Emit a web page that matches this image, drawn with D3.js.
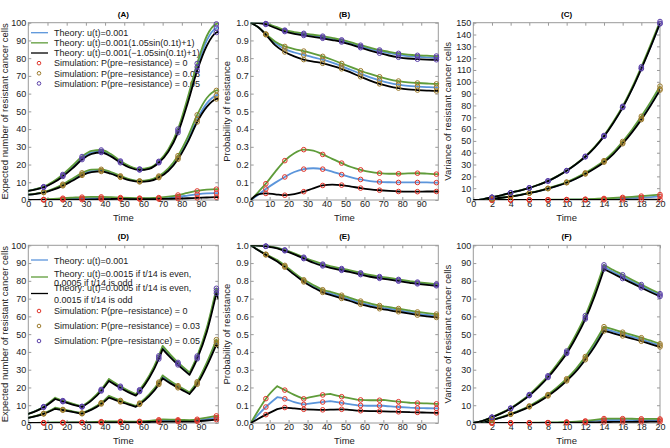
<!DOCTYPE html>
<html>
<head>
<meta charset="utf-8">
<script src="https://cdn.jsdelivr.net/npm/d3@7"></script>
<style>
  body { margin: 0; background: #fff; }
  svg { display: block; font-family: "Liberation Sans", Arial, Helvetica, sans-serif; }
</style>
</head>
<body>
<script>
//Sample times of the theory curves
const tLong = [0,4,8,13,18,23,28,33,38,43,48,53,58,63,68,73,78,83,88,93,98,99];
const tStep = [0,4,8,14,18,23,28,33,38,42,48,52,56,58,63,68,70,74,78,84,88,93,98,99];
const tShort = [0,1,2,3,4,5,6,7,8,9,10,11,12,13,14,15,16,17,18,19,20];

//Times where the simulation circles are shown
const simLong = [8,18,28,38,48,58,68,78,88,98];
const simShort = [2,4,6,8,10,12,14,16,18,20];

//Tick labels
const ticksLong = [0,10,20,30,40,50,60,70,80,90];
const ticksShort = [0,2,4,6,8,10,12,14,16,18,20];
const ticks100 = [0,10,20,30,40,50,60,70,80,90,100];
const ticks150 = [0,10,20,30,40,50,60,70,80,90,100,110,120,130,140,150];
const ticksProb = [0,0.1,0.2,0.3,0.4,0.5,0.6,0.7,0.8,0.9,1.0];

//Legend texts
const theoryA = ['Theory: u(t)=0.001','Theory: u(t)=0.001(1.05sin(0.1t)+1)','Theory: u(t)=0.001(\u22121.05sin(0.1t)+1)'];
const theoryD = [['Theory: u(t)=0.001'],['Theory: u(t)=0.0015 if t/14 is even,','0.0005 if t/14 is odd'],['Theory: u(t)=0.0005 if t/14 is even,','0.0015 if t/14 is odd']];
const simLabels = ['Simulation: P(pre\u2212resistance) = 0','Simulation: P(pre\u2212resistance) = 0.03','Simulation: P(pre\u2212resistance) = 0.05'];

//(A) expected number, sinusoidal rate
const aBlue0 = [0,0.05,0.15,0.3,0.5,0.7,0.9,1.0,1.05,1.0,0.9,0.8,0.75,0.8,0.95,1.3,1.8,2.5,3.2,3.7,3.9,3.9];
const aGreen0 = [0,0.08,0.3,0.6,1.0,1.3,1.6,1.75,1.75,1.6,1.35,1.15,1.05,1.1,1.35,1.9,2.8,4.0,5.1,5.8,6.1,6.1];
const aBlack0 = [0,0.02,0.03,0.06,0.1,0.15,0.2,0.3,0.45,0.55,0.6,0.55,0.5,0.5,0.55,0.65,0.8,1.0,1.2,1.4,1.6,1.6];
const aBlue3 = [3.0,3.5,4.3,6.0,8.4,11.4,14.5,16.3,16.6,15.2,13.1,11.3,10.5,10.9,13.0,17.1,23.8,33.5,45.5,54.5,59.0,59.3];
const aGreen3 = [3.0,3.6,4.5,6.3,8.9,12.0,15.3,17.1,17.3,15.8,13.6,11.7,10.8,11.3,13.5,17.8,25.0,35.3,48.0,57.5,61.8,62.0];
const aBlack3 = [3.0,3.5,4.2,5.8,8.0,10.9,13.9,15.7,16.1,14.8,12.8,11.0,10.2,10.6,12.6,16.5,23.0,32.5,44.0,52.5,57.0,57.2];
const aBlue5 = [5.2,6.1,7.3,10.0,13.8,18.5,23.6,26.8,27.4,25.2,21.5,18.6,17.2,17.9,21.4,28.0,39.0,56.0,75.0,90.0,97.0,97.3];
const aGreen5 = [5.2,6.2,7.5,10.4,14.4,19.3,24.5,27.7,28.2,25.9,22.0,19.0,17.5,18.2,21.8,28.6,40.0,57.5,77.0,92.5,99.3,99.6];
const aBlack5 = [5.2,6.0,7.1,9.7,13.3,17.8,22.8,26.0,26.8,24.6,21.0,18.2,16.9,17.6,21.0,27.4,38.0,54.5,73.0,87.0,94.5,94.8];

//(B) probability of resistance, sinusoidal rate
const bBlue0 = [0,0.03,0.062,0.098,0.13,0.158,0.174,0.179,0.174,0.16,0.143,0.128,0.116,0.107,0.102,0.1,0.099,0.099,0.099,0.099,0.098,0.098];
const bGreen0 = [0,0.045,0.092,0.16,0.222,0.264,0.284,0.279,0.257,0.232,0.208,0.186,0.17,0.158,0.151,0.148,0.148,0.15,0.151,0.149,0.146,0.146];
const bBlack0 = [0,0.032,0.037,0.032,0.027,0.033,0.047,0.066,0.082,0.087,0.084,0.076,0.067,0.06,0.055,0.051,0.048,0.047,0.047,0.048,0.048,0.048];
const bBlue3 = [1.0,0.975,0.935,0.885,0.852,0.832,0.818,0.805,0.792,0.775,0.755,0.733,0.712,0.692,0.675,0.661,0.651,0.644,0.64,0.637,0.635,0.635];
const bGreen3 = [1.0,0.975,0.936,0.893,0.866,0.851,0.84,0.826,0.81,0.791,0.77,0.749,0.729,0.711,0.695,0.681,0.671,0.664,0.66,0.657,0.655,0.655];
const bBlack3 = [1.0,0.974,0.932,0.872,0.835,0.81,0.792,0.781,0.771,0.757,0.74,0.718,0.695,0.673,0.655,0.641,0.631,0.624,0.62,0.617,0.615,0.615];
const bBlue5 = [1.0,0.999,0.994,0.975,0.955,0.943,0.935,0.927,0.918,0.908,0.897,0.882,0.866,0.852,0.839,0.828,0.819,0.812,0.808,0.805,0.803,0.803];
const bGreen5 = [1.0,0.999,0.995,0.978,0.958,0.947,0.94,0.932,0.924,0.914,0.903,0.889,0.873,0.859,0.846,0.836,0.827,0.82,0.816,0.814,0.812,0.812];
const bBlack5 = [1.0,0.998,0.99,0.97,0.95,0.937,0.928,0.92,0.912,0.902,0.891,0.876,0.859,0.843,0.828,0.815,0.805,0.798,0.794,0.792,0.791,0.791];

//(C) variance, sinusoidal rate
const cBlue0 = [0,0,0,0.01,0.02,0.03,0.05,0.07,0.1,0.14,0.2,0.28,0.4,0.57,0.8,1.05,1.4,1.75,2.1,2.5,3.0];
const cGreen0 = [0,0,0.01,0.02,0.03,0.05,0.08,0.12,0.17,0.25,0.35,0.5,0.7,0.98,1.3,1.7,2.2,2.7,3.3,3.9,4.6];
const cBlack0 = [0,0,0,0,0.01,0.01,0.02,0.02,0.03,0.04,0.05,0.06,0.08,0.1,0.13,0.16,0.2,0.24,0.29,0.34,0.4];
const cBlue3 = [0,0.3,1.1,1.9,2.9,4.3,5.9,7.6,9.7,12.0,14.8,18.3,22.4,27.0,32.5,39.5,48.3,58.0,69.0,81.0,94.0];
const cGreen3 = [0,0.3,1.1,1.9,3.0,4.4,6.0,7.8,9.9,12.3,15.2,18.8,23.0,27.7,33.3,40.5,49.5,59.5,70.8,83.0,96.3];
const cBlack3 = [0,0.3,1.1,1.9,2.9,4.2,5.8,7.5,9.6,11.9,14.6,18.0,22.0,26.6,32.0,38.9,47.6,57.2,68.0,80.0,93.0];
const cBlue5 = [0,0.6,2.3,4.0,6.1,8.0,10.2,12.9,16.0,20.0,24.7,30.2,36.6,44.5,54.0,65.5,78.5,94.0,111.5,130.0,149.0];
const cGreen5 = [0,0.6,2.3,4.0,6.1,8.1,10.3,13.0,16.2,20.2,24.9,30.5,37.0,45.0,54.6,66.2,79.3,95.0,112.7,131.5,151.0];
const cBlack5 = [0,0.6,2.3,4.0,6.1,8.0,10.2,12.9,16.0,20.0,24.7,30.2,36.6,44.4,53.8,65.2,78.2,93.6,111.0,129.5,149.5];

//(D) expected number, alternating rate
const dBlue0 = [0,0.03,0.08,0.17,0.2,0.22,0.24,0.35,0.5,0.62,0.62,0.6,0.58,0.65,0.92,1.25,1.42,1.35,1.28,1.15,1.5,2.2,3.0,2.9];
const dGreen0 = [0,0.06,0.14,0.3,0.3,0.3,0.3,0.5,0.75,0.95,0.88,0.83,0.78,0.9,1.25,1.8,2.05,1.9,1.78,1.6,2.1,3.0,4.0,3.9];
const dBlack0 = [0,0.01,0.02,0.05,0.1,0.15,0.18,0.2,0.25,0.3,0.35,0.38,0.4,0.43,0.55,0.7,0.8,0.82,0.82,0.8,0.95,1.4,1.9,1.9];
const dBlue3 = [2.9,3.9,5.3,8.3,7.4,6.4,5.4,7.8,11.1,14.8,12.3,10.8,9.4,10.8,15.6,22.4,26.0,23.0,20.4,16.8,22.5,33.0,45.5,43.5];
const dGreen3 = [2.9,4.0,5.4,8.6,7.6,6.6,5.6,8.0,11.4,15.3,12.7,11.1,9.7,11.2,16.1,23.0,26.8,23.7,21.0,17.3,23.2,34.0,46.9,44.8];
const dBlack3 = [2.9,3.8,5.1,8.0,7.2,6.2,5.2,7.5,10.7,14.3,11.9,10.5,9.1,10.5,15.1,21.7,25.2,22.3,19.8,16.3,21.8,32.0,44.2,42.3];
const dBlue5 = [5.1,6.8,9.0,13.8,12.3,10.6,9.2,13.0,18.4,24.2,20.2,17.9,15.8,18.2,25.9,36.9,42.5,37.7,33.4,27.8,36.9,52.4,74.5,71.5];
const dGreen5 = [5.1,6.9,9.2,14.2,12.6,10.9,9.4,13.4,18.9,24.8,20.7,18.3,16.2,18.7,26.6,37.8,43.4,38.5,34.1,28.4,37.7,53.6,75.8,72.8];
const dBlack5 = [5.1,6.7,8.8,13.5,12.0,10.4,9.0,12.7,18.0,23.6,19.7,17.4,15.4,17.7,25.3,36.0,41.6,36.9,32.7,27.1,36.1,51.2,73.0,70.0];

//(E) probability of resistance, alternating rate
const eBlue0 = [0,0.047,0.09,0.145,0.136,0.118,0.105,0.112,0.118,0.123,0.113,0.106,0.1,0.099,0.097,0.097,0.097,0.093,0.09,0.086,0.084,0.083,0.082,0.082];
const eGreen0 = [0,0.07,0.137,0.207,0.185,0.158,0.136,0.148,0.158,0.164,0.148,0.14,0.132,0.13,0.128,0.128,0.13,0.125,0.12,0.114,0.112,0.11,0.108,0.108];
const eBlack0 = [0,0.024,0.047,0.078,0.087,0.082,0.077,0.075,0.074,0.075,0.077,0.074,0.07,0.069,0.067,0.066,0.065,0.064,0.063,0.061,0.06,0.058,0.057,0.057];
const eBlue3 = [1.0,0.973,0.948,0.913,0.882,0.84,0.8,0.77,0.742,0.73,0.71,0.697,0.682,0.677,0.664,0.652,0.648,0.642,0.635,0.624,0.616,0.609,0.603,0.602];
const eGreen3 = [1.0,0.974,0.95,0.917,0.887,0.845,0.806,0.777,0.75,0.739,0.719,0.706,0.691,0.686,0.673,0.661,0.657,0.651,0.644,0.633,0.625,0.618,0.613,0.612];
const eBlack3 = [1.0,0.972,0.946,0.909,0.877,0.835,0.794,0.763,0.735,0.721,0.701,0.688,0.673,0.668,0.655,0.643,0.639,0.633,0.626,0.615,0.607,0.6,0.594,0.593];
const eBlue5 = [1.0,0.998,0.995,0.985,0.972,0.952,0.929,0.907,0.889,0.878,0.864,0.855,0.845,0.84,0.828,0.819,0.816,0.81,0.803,0.793,0.788,0.782,0.777,0.776];
const eGreen5 = [1.0,0.998,0.995,0.986,0.974,0.955,0.933,0.912,0.894,0.883,0.869,0.86,0.85,0.845,0.833,0.824,0.821,0.815,0.808,0.798,0.793,0.787,0.782,0.781];
const eBlack5 = [1.0,0.998,0.994,0.983,0.969,0.949,0.925,0.902,0.884,0.873,0.859,0.85,0.84,0.835,0.823,0.814,0.811,0.805,0.798,0.788,0.783,0.777,0.772,0.771];

//(F) variance, alternating rate
const fBlue0 = [0,0,0.01,0.01,0.03,0.05,0.08,0.12,0.18,0.26,0.38,0.55,0.8,1.15,1.7,1.7,1.68,1.65,1.62,1.6,1.58];
const fGreen0 = [0,0,0.01,0.02,0.04,0.07,0.11,0.17,0.25,0.38,0.55,0.8,1.15,1.7,2.5,2.5,2.45,2.4,2.35,2.3,2.25];
const fBlack0 = [0,0,0,0.01,0.01,0.02,0.03,0.04,0.06,0.09,0.13,0.18,0.26,0.37,0.55,0.6,0.64,0.68,0.7,0.72,0.74];
const fBlue3 = [0,0.6,1.7,3.2,5.0,7.0,9.3,12.2,15.6,19.6,24.3,29.7,36.5,44.2,53.0,51.6,50.0,48.5,47.0,45.3,43.7];
const fGreen3 = [0,0.6,1.8,3.3,5.2,7.2,9.6,12.6,16.0,20.1,24.9,30.5,37.4,45.3,54.2,52.7,51.1,49.6,48.0,46.3,44.6];
const fBlack3 = [0,0.6,1.7,3.1,4.9,6.8,9.1,11.9,15.2,19.1,23.7,29.0,35.6,43.1,51.8,50.5,49.0,47.5,46.0,44.4,42.8];
const fBlue5 = [0,1.2,3.2,5.5,8.2,11.7,15.6,20.5,26.0,32.5,39.7,48.8,59.3,72.5,87.8,85.0,82.3,79.7,77.0,74.5,72.0];
const fGreen5 = [0,1.2,3.3,5.7,8.4,12.0,16.0,21.0,26.6,33.2,40.5,49.8,60.4,73.8,89.0,86.1,83.4,80.6,77.9,75.3,72.8];
const fBlack5 = [0,1.2,3.2,5.4,8.1,11.5,15.4,20.2,25.6,32.0,39.1,48.1,58.5,71.4,86.6,84.0,81.3,78.7,76.1,73.6,71.2];

//Colours
const lineColors = ['#5b95db','#5f9c3a','#000000'];
const simColors = ['#e0352b','#9c7b2c','#5a40a8'];

const svg = d3.select('body').append('svg')
    .attr('width',670)
    .attr('height',448);

//Draw one panel
function drawPanel(p){
    const x = d3.scaleLinear().domain(p.xDomain).range([p.left,p.right]);
    const y = d3.scaleLinear().domain(p.yDomain).range([p.bottom,p.top]);
    const g = svg.append('g');

    g.append('g').attr('transform',`translate(0,${p.bottom})`)
        .call(d3.axisBottom(x).tickValues(p.xTicks).tickSize(-3).tickPadding(1).tickFormat(d3.format('d')));
    g.append('g').attr('transform',`translate(0,${p.top})`)
        .call(d3.axisTop(x).tickValues(p.xTicks).tickSize(-3).tickFormat(''));
    g.append('g').attr('transform',`translate(${p.left},0)`)
        .call(d3.axisLeft(y).tickValues(p.yTicks).tickSize(-3).tickPadding(2).tickFormat(p.yFormat));
    g.append('g').attr('transform',`translate(${p.right},0)`)
        .call(d3.axisRight(y).tickValues(p.yTicks).tickSize(-3).tickFormat(''));
    g.selectAll('.domain').remove();
    g.selectAll('.tick line').attr('stroke','#9a9a9a');
    g.selectAll('.tick text').attr('font-size','9px').attr('fill','#222').attr('font-family','"Liberation Sans", Arial, sans-serif');

    //Border
    g.append('rect')
        .attr('x',p.left).attr('y',p.top)
        .attr('width',p.right-p.left).attr('height',p.bottom-p.top)
        .attr('fill','none').attr('stroke','#9a9a9a');

    //Title and axis labels
    g.append('text').attr('x',(p.left+p.right)/2).attr('y',p.top-6)
        .attr('text-anchor','middle').attr('font-size','8px').attr('font-weight','bold')
        .text(p.title);
    g.append('text').attr('x',(p.left+p.right)/2).attr('y',p.bottom+20.5)
        .attr('text-anchor','middle').attr('font-size','9.5px').attr('fill','#222')
        .text('Time');
    g.append('text')
        .attr('transform',`translate(${p.yLabelX},${(p.top+p.bottom)/2}) rotate(-90)`)
        .attr('text-anchor','middle').attr('font-size','9.5px').attr('fill','#222')
        .text(p.yLabel);

    if(p.legend) p.legend(g);

    //Clip the curves to the plot area
    const clipId = 'clip'+p.title.replace(/[()]/g,'');
    g.append('clipPath').attr('id',clipId).append('rect')
        .attr('x',p.left).attr('y',p.top)
        .attr('width',p.right-p.left).attr('height',p.bottom-p.top);

    const line = d3.line().x((d)=>x(d[0])).y((d)=>y(d[1])).curve(d3.curveMonotoneX);

    //Split the curve at the rate switch points so the corners stay sharp
    function pathOf(vals){
        const pts = d3.zip(p.times,vals);
        let d = '', seg = [];
        pts.forEach((pt,i)=>{
            seg.push(pt);
            if(p.breaks.includes(pt[0]) || i===pts.length-1){
                if(seg.length>1) d += line(seg);
                seg = [pt];
            }
        });
        return d;
    }

    const lines = g.append('g').attr('clip-path',`url(#${clipId})`);
    p.groups.forEach((grp)=>{
        grp.forEach((vals,k)=>{
            lines.append('path')
                .attr('d',pathOf(vals))
                .attr('fill','none')
                .attr('stroke',lineColors[k])
                .attr('stroke-width',1.8)
                .attr('stroke-linejoin','round')
                .attr('stroke-linecap','round');
        });
    });

    //Simulation circles
    p.groups.forEach((grp,gi)=>{
        grp.forEach((vals)=>{
            p.times.forEach((t,i)=>{
                if(!p.simTimes.includes(t)) return;
                g.append('circle')
                    .attr('cx',x(t)).attr('cy',y(vals[i])).attr('r',2.3)
                    .attr('fill','none').attr('stroke',simColors[gi]).attr('stroke-width',1);
            });
        });
    });
}

//Legend with one text line per entry
function legendA(g){
    const lx = 31, tx = 54, y0 = 32.7, dy = 10.15;
    theoryA.forEach((s,i)=>{
        g.append('line').attr('x1',lx).attr('x2',lx+17).attr('y1',y0+dy*i).attr('y2',y0+dy*i)
            .attr('stroke',lineColors[i]).attr('stroke-width',1.3);
        g.append('text').attr('x',tx).attr('y',y0+dy*i+3.2).attr('font-size','9px').attr('fill','#222').text(s);
    });
    simLabels.forEach((s,i)=>{
        const yy = y0+dy*(i+3);
        g.append('circle').attr('cx',39).attr('cy',yy).attr('r',1.8).attr('fill','none')
            .attr('stroke',simColors[i]).attr('stroke-width',1);
        g.append('text').attr('x',tx).attr('y',yy+3.2).attr('font-size','9px').attr('fill','#222').text(s);
    });
}

//Legend with wrapped theory entries
function legendD(g){
    const lx = 31, tx = 54;
    const lineY = [260,277,293.5];
    const textY = [[261],[273.5,282.5],[288,300]];
    theoryD.forEach((rows,i)=>{
        g.append('line').attr('x1',lx).attr('x2',lx+17).attr('y1',lineY[i]).attr('y2',lineY[i])
            .attr('stroke',lineColors[i]).attr('stroke-width',1.3);
        rows.forEach((s,j)=>{
            g.append('text').attr('x',tx).attr('y',textY[i][j]+3.2).attr('font-size','9px').attr('fill','#222').text(s);
        });
    });
    const simY = [311,326,341];
    simLabels.forEach((s,i)=>{
        g.append('circle').attr('cx',39).attr('cy',simY[i]).attr('r',1.8).attr('fill','none')
            .attr('stroke',simColors[i]).attr('stroke-width',1);
        g.append('text').attr('x',tx).attr('y',simY[i]+3.2).attr('font-size','9px').attr('fill','#222').text(s);
    });
}

const topRow = {top:22.7,bottom:200};
const botRow = {top:245.3,bottom:423};
const colA = {left:28.3,right:218.3,yLabelX:8};
const colB = {left:250.7,right:438.3,yLabelX:230};
const colC = {left:473.3,right:660,yLabelX:451};
const fmtInt = d3.format('d');
const fmtProb = d3.format('.1f');

drawPanel({...topRow,...colA,title:'(A)',xDomain:[0,99],yDomain:[0,100],xTicks:ticksLong,yTicks:ticks100,yFormat:fmtInt,
    yLabel:'Expected number of resistant cancer cells',times:tLong,breaks:[],simTimes:simLong,legend:legendA,
    groups:[[aBlue0,aGreen0,aBlack0],[aBlue3,aGreen3,aBlack3],[aBlue5,aGreen5,aBlack5]]});
drawPanel({...topRow,...colB,title:'(B)',xDomain:[0,99],yDomain:[0,1],xTicks:ticksLong,yTicks:ticksProb,yFormat:fmtProb,
    yLabel:'Probability of resistance',times:tLong,breaks:[],simTimes:simLong,
    groups:[[bBlue0,bGreen0,bBlack0],[bBlue3,bGreen3,bBlack3],[bBlue5,bGreen5,bBlack5]]});
drawPanel({...topRow,...colC,title:'(C)',xDomain:[0,20],yDomain:[0,150],xTicks:ticksShort,yTicks:ticks150,yFormat:fmtInt,
    yLabel:'Variance of resistant cancer cells',times:tShort,breaks:[],simTimes:simShort,
    groups:[[cBlue0,cGreen0,cBlack0],[cBlue3,cGreen3,cBlack3],[cBlue5,cGreen5,cBlack5]]});
drawPanel({...botRow,...colA,title:'(D)',xDomain:[0,99],yDomain:[0,100],xTicks:ticksLong,yTicks:ticks100,yFormat:fmtInt,
    yLabel:'Expected number of resistant cancer cells',times:tStep,breaks:[14,28,42,56,70,84,98],simTimes:simLong,legend:legendD,
    groups:[[dBlue0,dGreen0,dBlack0],[dBlue3,dGreen3,dBlack3],[dBlue5,dGreen5,dBlack5]]});
drawPanel({...botRow,...colB,title:'(E)',xDomain:[0,99],yDomain:[0,1],xTicks:ticksLong,yTicks:ticksProb,yFormat:fmtProb,
    yLabel:'Probability of resistance',times:tStep,breaks:[14,28,42,56,70,84,98],simTimes:simLong,
    groups:[[eBlue0,eGreen0,eBlack0],[eBlue3,eGreen3,eBlack3],[eBlue5,eGreen5,eBlack5]]});
drawPanel({...botRow,...colC,title:'(F)',xDomain:[0,20],yDomain:[0,100],xTicks:ticksShort,yTicks:ticks100,yFormat:fmtInt,
    yLabel:'Variance of resistant cancer cells',times:tShort,breaks:[14],simTimes:simShort,
    groups:[[fBlue0,fGreen0,fBlack0],[fBlue3,fGreen3,fBlack3],[fBlue5,fGreen5,fBlack5]]});
</script>
</body>
</html>
